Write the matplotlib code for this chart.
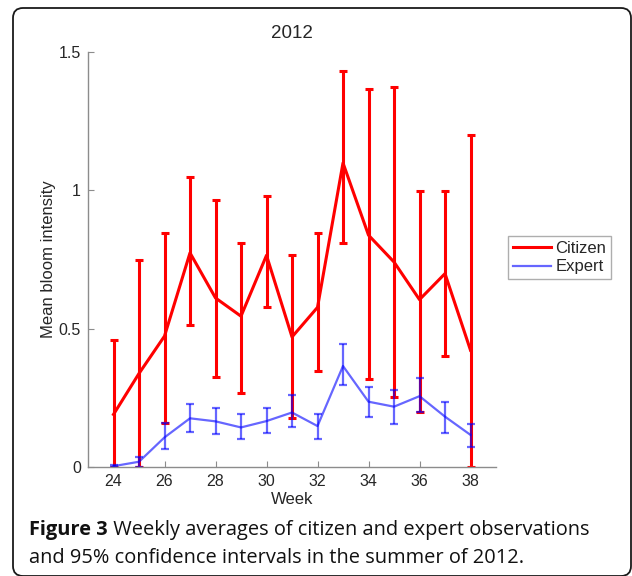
import numpy as np
import matplotlib
matplotlib.use("Agg")
import matplotlib.pyplot as plt
from matplotlib.patches import FancyBboxPatch
from matplotlib.lines import Line2D
from matplotlib.transforms import IdentityTransform

# Weekly means and 95% CI bounds, summer 2012
weeks = np.arange(24, 39)
citizen_mean = np.array([0.19, 0.338, 0.473, 0.774, 0.611, 0.545, 0.765, 0.47,
                         0.577, 1.099, 0.838, 0.741, 0.605, 0.699, 0.422])
citizen_low = np.array([0.0, 0.0, 0.16, 0.513, 0.324, 0.268, 0.579, 0.178,
                        0.348, 0.81, 0.318, 0.252, 0.2, 0.4, 0.0])
citizen_high = np.array([0.458, 0.75, 0.844, 1.048, 0.966, 0.81, 0.978, 0.766,
                         0.846, 1.431, 1.368, 1.373, 0.998, 0.998, 1.199])
expert_mean = np.array([0.003, 0.019, 0.107, 0.176, 0.165, 0.143, 0.166, 0.197,
                        0.148, 0.365, 0.236, 0.218, 0.256, 0.182, 0.116])
expert_low = np.array([0.0, 0.0, 0.066, 0.128, 0.118, 0.101, 0.122, 0.146,
                       0.101, 0.298, 0.182, 0.155, 0.197, 0.124, 0.071])
expert_high = np.array([0.006, 0.035, 0.158, 0.226, 0.212, 0.19, 0.215, 0.262,
                        0.191, 0.443, 0.29, 0.28, 0.322, 0.236, 0.155])

W, H = 632, 576
fig = plt.figure(figsize=(W / 100, H / 100), dpi=100)
plt.rcParams["font.family"] = ["Liberation Sans", "DejaVu Sans"]
txt = "#262626"
red = "#ff0000"
blue = (0, 0, 1, 0.6)

ax = fig.add_axes([88 / W, 1 - 467 / H, 408 / W, 415 / H])

ax.errorbar(weeks, citizen_mean,
            yerr=[citizen_mean - citizen_low, citizen_high - citizen_mean],
            color=red, lw=2.2, elinewidth=2.2, capsize=2.8, capthick=2.2)
ax.errorbar(weeks, expert_mean,
            yerr=[expert_mean - expert_low, expert_high - expert_mean],
            color=blue, lw=1.6, elinewidth=1.6, capsize=2.6, capthick=1.6)

ax.set_xlim(23, 39)
ax.set_ylim(0, 1.5)
ax.set_xticks(range(24, 39, 2))
ax.set_yticks([0, 0.5, 1, 1.5])
ax.set_yticklabels(["0", "0.5", "1", "1.5"])
for s in ["top", "right"]:
    ax.spines[s].set_visible(False)
for s in ["left", "bottom"]:
    ax.spines[s].set_color("#8c8c8c")
    ax.spines[s].set_linewidth(1.0)
ax.tick_params(direction="in", length=4, color="#8c8c8c", labelsize=11.5,
               labelcolor=txt, pad=5)

ax.set_title("2012", fontsize=13.5, color=txt, pad=10)
ax.set_xlabel("Week", fontsize=12, color=txt, labelpad=2)
ax.set_ylabel("Mean bloom intensity", fontsize=12, color=txt, labelpad=2)

handles = [Line2D([], [], color=red, lw=2.2), Line2D([], [], color=blue, lw=1.6)]
leg = ax.legend(handles, ["Citizen", "Expert"], loc="upper left",
                bbox_to_anchor=(508 / W, 1 - 236 / H),
                bbox_transform=fig.transFigure, borderaxespad=0, fancybox=False,
                edgecolor="#9a9a9a", fontsize=12, handlelength=2.3,
                handletextpad=0.25, borderpad=0.3, labelspacing=0.2)
leg.get_frame().set_linewidth(1.0)
for t in leg.get_texts():
    t.set_color(txt)

# rounded frame around the figure
frame = FancyBboxPatch((13, 0), 618, 568, boxstyle="round,pad=0,rounding_size=10",
                       transform=IdentityTransform(), fill=False,
                       edgecolor="#1a1a1a", lw=1.3)
fig.patches.append(frame)

# caption: bold label followed by regular text
cap_font = ["Open Sans", "DejaVu Sans"]
cap_size = 14.4
renderer = fig.canvas.get_renderer()
x0 = 29 / W
b1 = fig.text(x0, 41 / H, "Figure 3", fontsize=cap_size, fontweight="bold",
              family=cap_font, color="#111111", va="baseline")
wb = b1.get_window_extent(renderer).width / W
fig.text(x0 + wb, 41 / H, " Weekly averages of citizen and expert observations",
         fontsize=cap_size, family=cap_font, color="#111111", va="baseline")
fig.text(x0, 13 / H, "and 95% confidence intervals in the summer of 2012.",
         fontsize=cap_size, family=cap_font, color="#111111", va="baseline")

fig.savefig("out.png", dpi=100)
